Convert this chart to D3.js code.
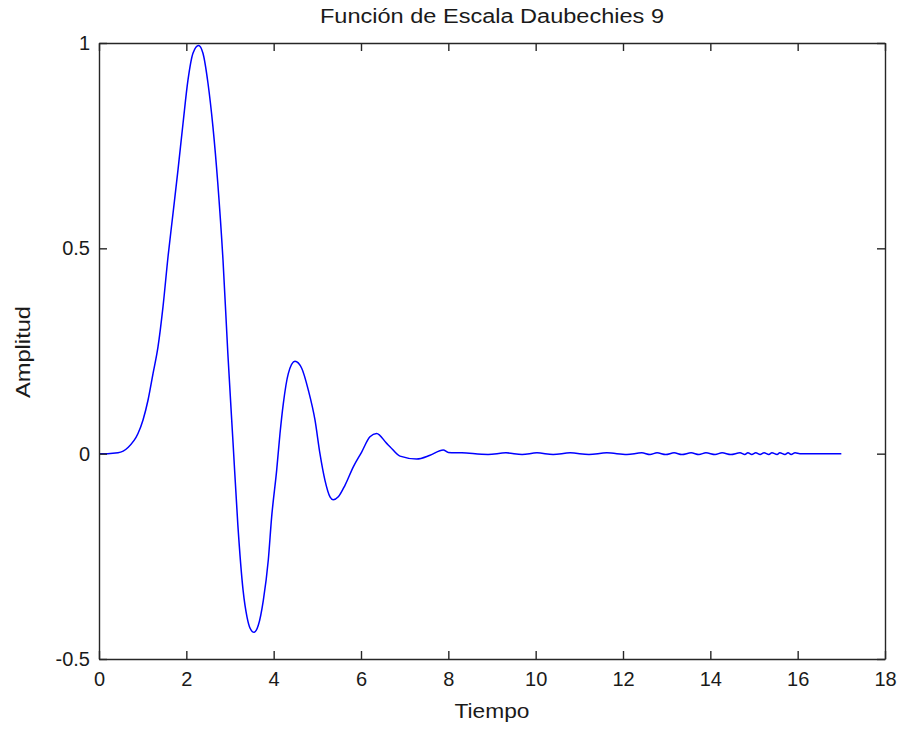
<!DOCTYPE html>
<html>
<head>
<meta charset="utf-8">
<script src="https://cdn.jsdelivr.net/npm/d3@7"></script>
<style>
  body { margin: 0; background: #fff; }
  text { font-family: "Liberation Sans", Arial, sans-serif; fill: #1a1a1a; }
</style>
</head>
<body>
<svg id="chart"></svg>
<script>
// values
const tiempo = [0, 0.2, 0.435, 0.664, 0.893, 1.008, 1.122, 1.237, 1.351, 1.466, 1.58, 1.695, 1.809, 1.924, 2.038, 2.152, 2.28, 2.381, 2.496, 2.61, 2.72, 2.84, 2.95, 3.07, 3.18, 3.30, 3.39, 3.46, 3.55, 3.648, 3.763, 3.877, 3.954, 4.069, 4.145, 4.221, 4.335, 4.488, 4.642, 4.793, 4.946, 5.06, 5.175, 5.29, 5.366, 5.48, 5.633, 5.824, 6.015, 6.205, 6.358, 6.588, 6.664, 6.893, 7.275, 7.58, 7.884, 7.999,
  8.31, 8.91, 9.32, 9.69, 10.03, 10.40, 10.79, 11.22, 11.63, 12.09, 12.43, 12.62, 12.78, 12.98, 13.17, 13.35, 13.56, 13.74, 13.90, 14.11, 14.27, 14.47, 14.68, 14.79, 14.86, 14.95, 15.04, 15.14, 15.23, 15.34, 15.41, 15.53, 15.59, 15.71, 15.78, 15.85, 15.94, 16.05, 17];
const amplitud = [0, 0, 0.002, 0.015, 0.049, 0.082, 0.13, 0.195, 0.26, 0.358, 0.479, 0.585, 0.691, 0.804, 0.91, 0.975, 0.994, 0.975, 0.902, 0.795, 0.659, 0.471, 0.245, 0.026, -0.174, -0.333, -0.398, -0.425, -0.435, -0.418, -0.357, -0.259, -0.154, -0.04, 0.049, 0.122, 0.195, 0.225, 0.208, 0.155, 0.082, 0.0, -0.065, -0.105, -0.112, -0.105, -0.077, -0.032, 0.004, 0.041, 0.049, 0.025, 0.017, -0.006, -0.013, -0.004, 0.009, 0.003,
  0.002, -0.002, 0.002, -0.002, 0.002, -0.002, 0.002, -0.002, 0.002, -0.002, 0.002, -0.002, 0.002, -0.002, 0.002, -0.002, 0.002, -0.002, 0.002, -0.002, 0.002, -0.002, 0.002, -0.002, 0.002, -0.002, 0.002, -0.002, 0.002, -0.002, 0.002, -0.002, 0.002, -0.002, 0.002, -0.002, 0.002, 0, 0];
const xTicks = [0, 2, 4, 6, 8, 10, 12, 14, 16, 18];
const yTicks = [-0.5, 0, 0.5, 1];
const titulo = "Función de Escala Daubechies 9";

const margin = { top: 43, right: 15, bottom: 70, left: 99 },
    width = 900 - margin.left - margin.right,
    height = 729 - margin.top - margin.bottom;

const svg = d3.select("#chart")
    .attr("width", 900)
    .attr("height", 729);

const g = svg.append("g")
    .attr("transform", `translate(${margin.left}, ${margin.top})`);

const x = d3.scaleLinear().domain([0, 18]).range([0, width]);
const y = d3.scaleLinear().domain([-0.5, 1]).range([height, 0]);

// curve
const line = d3.line()
    .x(d => x(d[0]))
    .y(d => y(d[1]))
    .curve(d3.curveMonotoneX);

g.append("path")
    .datum(tiempo.map((t, i) => [t, amplitud[i]]))
    .attr("fill", "none")
    .attr("stroke", "#0000ff")
    .attr("stroke-width", 1.5)
    .attr("d", line);

// axes, ticks pointing inward on all four sides
function styleAxis(sel) {
    sel.selectAll("path").attr("stroke", "#262626").attr("stroke-width", 1.4);
    sel.selectAll("line").attr("stroke", "#262626").attr("stroke-width", 1.4);
    sel.selectAll("text").style("font-size", "20px").attr("fill", "#1a1a1a")
        .style("font-family", '"Liberation Sans", Arial, sans-serif');
}

g.append("g")
    .attr("transform", `translate(0, ${height})`)
    .call(d3.axisBottom(x).tickValues(xTicks).tickSize(-8).tickSizeOuter(0).tickPadding(13).tickFormat(d => String(d)))
    .call(styleAxis);

g.append("g")
    .call(d3.axisTop(x).tickValues(xTicks).tickSize(-8).tickSizeOuter(0).tickFormat(""))
    .call(styleAxis);

g.append("g")
    .call(d3.axisLeft(y).tickValues(yTicks).tickSize(-8).tickSizeOuter(0).tickPadding(9).tickFormat(d => String(d)))
    .call(styleAxis);

g.append("g")
    .attr("transform", `translate(${width}, 0)`)
    .call(d3.axisRight(y).tickValues(yTicks).tickSize(-8).tickSizeOuter(0).tickFormat(""))
    .call(styleAxis);

// title and axis labels
svg.append("text")
    .attr("x", margin.left + width / 2)
    .attr("y", 23)
    .attr("text-anchor", "middle")
    .style("font-size", "20px")
    .attr("textLength", 344)
    .attr("lengthAdjust", "spacingAndGlyphs")
    .text(titulo);

svg.append("text")
    .attr("x", margin.left + width / 2)
    .attr("y", 718)
    .attr("text-anchor", "middle")
    .style("font-size", "20px")
    .attr("textLength", 75)
    .attr("lengthAdjust", "spacingAndGlyphs")
    .text("Tiempo");

svg.append("text")
    .attr("transform", `translate(30, 352) rotate(-90)`)
    .attr("text-anchor", "middle")
    .style("font-size", "20px")
    .attr("textLength", 92)
    .attr("lengthAdjust", "spacingAndGlyphs")
    .text("Amplitud");
</script>
</body>
</html>
